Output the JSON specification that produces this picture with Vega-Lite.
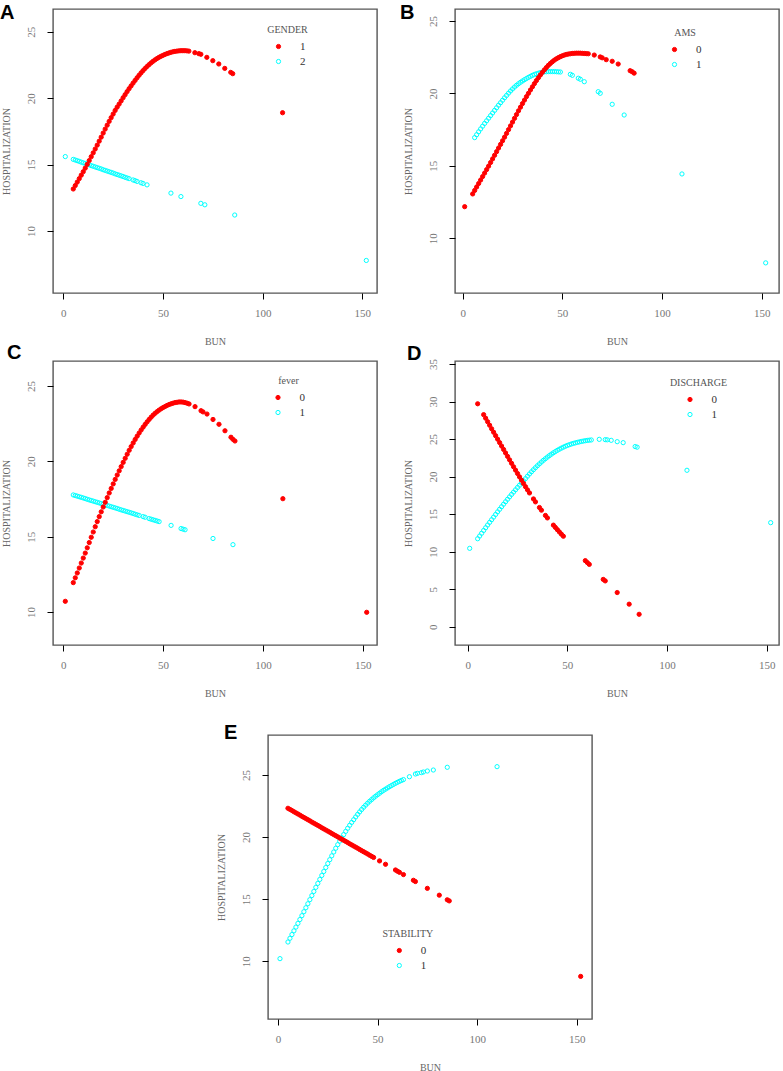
{
"$schema":"https://vega.github.io/schema/vega-lite/v6.json",
"autosize":{"type":"none"},
"padding":{"left":53,"top":9,"right":730,"bottom":1062},
"background":"white",
"config":{
 "view":{"stroke":"#555","strokeWidth":1.4},
 "axis":{"grid":false,"domain":false,"ticks":true,"tickColor":"#000","tickSize":6,"tickWidth":1,"labelFont":"Liberation Serif","labelFontSize":11,"labelColor":"#777","titleFont":"Liberation Serif","titleFontSize":10,"titleFontWeight":"normal","titleColor":"#666","labelPadding":8,"labelFlush":false,"labelOverlap":false},
 "axisX":{"titlePadding":18,"labelAngle":0},
 "axisY":{"labelAngle":-90,"labelAlign":"center","labelBaseline":"bottom","labelPadding":11,"titlePadding":14},
 "legend":{"padding":0,"titleFont":"Liberation Serif","titleFontSize":10,"titleFontWeight":"normal","titleColor":"#555","titleAnchor":"middle","titlePadding":6,"labelFont":"Liberation Serif","labelFontSize":11,"labelColor":"#333","labelOffset":16,"rowPadding":3,"symbolSize":18,"symbolStrokeWidth":1,"symbolType":"circle"},
 "title":{"font":"Liberation Sans","fontSize":20,"fontWeight":"bold","color":"#000","anchor":"start","frame":"group","offset":0,"baseline":"alphabetic"}
},
"datasets":{
"A":[
{"grp":"2","bun":1,"hosp":15.6},{"grp":"2","bun":5,"hosp":15.39},{"grp":"2","bun":6,"hosp":15.34},{"grp":"2","bun":7,"hosp":15.29},{"grp":"2","bun":8,"hosp":15.24},{"grp":"2","bun":9,"hosp":15.18},{"grp":"2","bun":10,"hosp":15.13},{"grp":"2","bun":11,"hosp":15.08},{"grp":"2","bun":12,"hosp":15.03},{"grp":"2","bun":13,"hosp":14.98},{"grp":"2","bun":14,"hosp":14.92},{"grp":"2","bun":15,"hosp":14.87},{"grp":"2","bun":16,"hosp":14.82},{"grp":"2","bun":17,"hosp":14.77},{"grp":"2","bun":18,"hosp":14.72},{"grp":"2","bun":19,"hosp":14.67},{"grp":"2","bun":20,"hosp":14.61},{"grp":"2","bun":21,"hosp":14.56},{"grp":"2","bun":22,"hosp":14.51},{"grp":"2","bun":23,"hosp":14.46},{"grp":"2","bun":24,"hosp":14.41},{"grp":"2","bun":25,"hosp":14.36},{"grp":"2","bun":26,"hosp":14.3},{"grp":"2","bun":27,"hosp":14.25},{"grp":"2","bun":28,"hosp":14.2},{"grp":"2","bun":29,"hosp":14.15},{"grp":"2","bun":30,"hosp":14.1},{"grp":"2","bun":31,"hosp":14.04},{"grp":"2","bun":32,"hosp":13.99},{"grp":"2","bun":33,"hosp":13.94},{"grp":"2","bun":35,"hosp":13.84},{"grp":"2","bun":36,"hosp":13.79},{"grp":"2","bun":37,"hosp":13.73},{"grp":"2","bun":39,"hosp":13.63},{"grp":"2","bun":40,"hosp":13.58},{"grp":"2","bun":42,"hosp":13.47},{"grp":"2","bun":54,"hosp":12.85},{"grp":"2","bun":59,"hosp":12.59},{"grp":"2","bun":69,"hosp":12.08},{"grp":"2","bun":71,"hosp":11.97},{"grp":"2","bun":86,"hosp":11.2},{"grp":"2","bun":152,"hosp":7.78},
{"grp":"1","bun":5,"hosp":13.16},{"grp":"1","bun":6,"hosp":13.42},{"grp":"1","bun":7,"hosp":13.68},{"grp":"1","bun":8,"hosp":13.94},{"grp":"1","bun":9,"hosp":14.2},{"grp":"1","bun":10,"hosp":14.46},{"grp":"1","bun":11,"hosp":14.73},{"grp":"1","bun":12,"hosp":15.01},{"grp":"1","bun":13,"hosp":15.3},{"grp":"1","bun":14,"hosp":15.59},{"grp":"1","bun":15,"hosp":15.88},{"grp":"1","bun":16,"hosp":16.17},{"grp":"1","bun":17,"hosp":16.46},{"grp":"1","bun":18,"hosp":16.76},{"grp":"1","bun":19,"hosp":17.06},{"grp":"1","bun":20,"hosp":17.37},{"grp":"1","bun":21,"hosp":17.67},{"grp":"1","bun":22,"hosp":17.96},{"grp":"1","bun":23,"hosp":18.25},{"grp":"1","bun":24,"hosp":18.53},{"grp":"1","bun":25,"hosp":18.8},{"grp":"1","bun":26,"hosp":19.07},{"grp":"1","bun":27,"hosp":19.32},{"grp":"1","bun":28,"hosp":19.55},{"grp":"1","bun":29,"hosp":19.79},{"grp":"1","bun":30,"hosp":20.03},{"grp":"1","bun":31,"hosp":20.26},{"grp":"1","bun":32,"hosp":20.49},{"grp":"1","bun":33,"hosp":20.71},{"grp":"1","bun":34,"hosp":20.92},{"grp":"1","bun":35,"hosp":21.13},{"grp":"1","bun":36,"hosp":21.33},{"grp":"1","bun":37,"hosp":21.53},{"grp":"1","bun":38,"hosp":21.72},{"grp":"1","bun":39,"hosp":21.9},{"grp":"1","bun":40,"hosp":22.07},{"grp":"1","bun":41,"hosp":22.23},{"grp":"1","bun":42,"hosp":22.38},{"grp":"1","bun":43,"hosp":22.52},{"grp":"1","bun":44,"hosp":22.65},{"grp":"1","bun":45,"hosp":22.77},{"grp":"1","bun":46,"hosp":22.88},{"grp":"1","bun":47,"hosp":22.98},{"grp":"1","bun":48,"hosp":23.07},{"grp":"1","bun":49,"hosp":23.15},{"grp":"1","bun":50,"hosp":23.22},{"grp":"1","bun":51,"hosp":23.29},{"grp":"1","bun":52,"hosp":23.35},{"grp":"1","bun":53,"hosp":23.4},{"grp":"1","bun":54,"hosp":23.45},{"grp":"1","bun":55,"hosp":23.49},{"grp":"1","bun":56,"hosp":23.52},{"grp":"1","bun":57,"hosp":23.54},{"grp":"1","bun":58,"hosp":23.56},{"grp":"1","bun":59,"hosp":23.57},{"grp":"1","bun":60,"hosp":23.57},{"grp":"1","bun":61,"hosp":23.57},{"grp":"1","bun":62,"hosp":23.56},{"grp":"1","bun":63,"hosp":23.54},{"grp":"1","bun":66,"hosp":23.42},{"grp":"1","bun":68,"hosp":23.35},{"grp":"1","bun":69,"hosp":23.3},{"grp":"1","bun":72,"hosp":23.07},{"grp":"1","bun":75,"hosp":22.82},{"grp":"1","bun":78,"hosp":22.57},{"grp":"1","bun":81,"hosp":22.24},{"grp":"1","bun":84,"hosp":21.94},{"grp":"1","bun":85,"hosp":21.84},{"grp":"1","bun":110,"hosp":18.9}
],
"B":[
{"grp":"1","bun":6,"hosp":16.95},{"grp":"1","bun":7,"hosp":17.15},{"grp":"1","bun":8,"hosp":17.35},{"grp":"1","bun":9,"hosp":17.55},{"grp":"1","bun":10,"hosp":17.74},{"grp":"1","bun":11,"hosp":17.93},{"grp":"1","bun":12,"hosp":18.11},{"grp":"1","bun":13,"hosp":18.29},{"grp":"1","bun":14,"hosp":18.47},{"grp":"1","bun":15,"hosp":18.65},{"grp":"1","bun":16,"hosp":18.83},{"grp":"1","bun":17,"hosp":19.01},{"grp":"1","bun":18,"hosp":19.19},{"grp":"1","bun":19,"hosp":19.36},{"grp":"1","bun":20,"hosp":19.53},{"grp":"1","bun":21,"hosp":19.7},{"grp":"1","bun":22,"hosp":19.86},{"grp":"1","bun":23,"hosp":20.02},{"grp":"1","bun":24,"hosp":20.17},{"grp":"1","bun":25,"hosp":20.31},{"grp":"1","bun":26,"hosp":20.44},{"grp":"1","bun":27,"hosp":20.56},{"grp":"1","bun":28,"hosp":20.67},{"grp":"1","bun":29,"hosp":20.77},{"grp":"1","bun":30,"hosp":20.86},{"grp":"1","bun":31,"hosp":20.95},{"grp":"1","bun":32,"hosp":21.03},{"grp":"1","bun":33,"hosp":21.11},{"grp":"1","bun":34,"hosp":21.18},{"grp":"1","bun":35,"hosp":21.25},{"grp":"1","bun":36,"hosp":21.31},{"grp":"1","bun":37,"hosp":21.36},{"grp":"1","bun":38,"hosp":21.4},{"grp":"1","bun":39,"hosp":21.44},{"grp":"1","bun":40,"hosp":21.47},{"grp":"1","bun":41,"hosp":21.49},{"grp":"1","bun":42,"hosp":21.5},{"grp":"1","bun":43,"hosp":21.51},{"grp":"1","bun":44,"hosp":21.51},{"grp":"1","bun":45,"hosp":21.51},{"grp":"1","bun":46,"hosp":21.51},{"grp":"1","bun":47,"hosp":21.5},{"grp":"1","bun":48,"hosp":21.49},{"grp":"1","bun":49,"hosp":21.48},{"grp":"1","bun":54,"hosp":21.32},{"grp":"1","bun":55,"hosp":21.25},{"grp":"1","bun":58,"hosp":21.05},{"grp":"1","bun":59,"hosp":20.98},{"grp":"1","bun":61,"hosp":20.81},{"grp":"1","bun":68,"hosp":20.12},{"grp":"1","bun":69,"hosp":20.01},{"grp":"1","bun":75,"hosp":19.25},{"grp":"1","bun":81,"hosp":18.51},{"grp":"1","bun":110,"hosp":14.44},{"grp":"1","bun":152,"hosp":8.3},
{"grp":"0","bun":1,"hosp":12.18},{"grp":"0","bun":5,"hosp":13.06},{"grp":"0","bun":6,"hosp":13.3},{"grp":"0","bun":7,"hosp":13.54},{"grp":"0","bun":8,"hosp":13.78},{"grp":"0","bun":9,"hosp":14.02},{"grp":"0","bun":10,"hosp":14.26},{"grp":"0","bun":11,"hosp":14.5},{"grp":"0","bun":12,"hosp":14.74},{"grp":"0","bun":13,"hosp":14.98},{"grp":"0","bun":14,"hosp":15.23},{"grp":"0","bun":15,"hosp":15.48},{"grp":"0","bun":16,"hosp":15.73},{"grp":"0","bun":17,"hosp":15.98},{"grp":"0","bun":18,"hosp":16.23},{"grp":"0","bun":19,"hosp":16.48},{"grp":"0","bun":20,"hosp":16.73},{"grp":"0","bun":21,"hosp":16.98},{"grp":"0","bun":22,"hosp":17.24},{"grp":"0","bun":23,"hosp":17.5},{"grp":"0","bun":24,"hosp":17.76},{"grp":"0","bun":25,"hosp":18.02},{"grp":"0","bun":26,"hosp":18.28},{"grp":"0","bun":27,"hosp":18.54},{"grp":"0","bun":28,"hosp":18.8},{"grp":"0","bun":29,"hosp":19.05},{"grp":"0","bun":30,"hosp":19.3},{"grp":"0","bun":31,"hosp":19.54},{"grp":"0","bun":32,"hosp":19.78},{"grp":"0","bun":33,"hosp":20.01},{"grp":"0","bun":34,"hosp":20.24},{"grp":"0","bun":35,"hosp":20.46},{"grp":"0","bun":36,"hosp":20.68},{"grp":"0","bun":37,"hosp":20.89},{"grp":"0","bun":38,"hosp":21.09},{"grp":"0","bun":39,"hosp":21.28},{"grp":"0","bun":40,"hosp":21.46},{"grp":"0","bun":41,"hosp":21.63},{"grp":"0","bun":42,"hosp":21.79},{"grp":"0","bun":43,"hosp":21.94},{"grp":"0","bun":44,"hosp":22.07},{"grp":"0","bun":45,"hosp":22.19},{"grp":"0","bun":46,"hosp":22.3},{"grp":"0","bun":47,"hosp":22.39},{"grp":"0","bun":48,"hosp":22.47},{"grp":"0","bun":49,"hosp":22.54},{"grp":"0","bun":50,"hosp":22.6},{"grp":"0","bun":51,"hosp":22.65},{"grp":"0","bun":52,"hosp":22.69},{"grp":"0","bun":53,"hosp":22.72},{"grp":"0","bun":54,"hosp":22.74},{"grp":"0","bun":55,"hosp":22.76},{"grp":"0","bun":56,"hosp":22.77},{"grp":"0","bun":57,"hosp":22.78},{"grp":"0","bun":58,"hosp":22.78},{"grp":"0","bun":59,"hosp":22.78},{"grp":"0","bun":60,"hosp":22.77},{"grp":"0","bun":61,"hosp":22.76},{"grp":"0","bun":62,"hosp":22.75},{"grp":"0","bun":63,"hosp":22.74},{"grp":"0","bun":66,"hosp":22.65},{"grp":"0","bun":69,"hosp":22.52},{"grp":"0","bun":70,"hosp":22.46},{"grp":"0","bun":72,"hosp":22.33},{"grp":"0","bun":75,"hosp":22.22},{"grp":"0","bun":78,"hosp":22.03},{"grp":"0","bun":84,"hosp":21.57},{"grp":"0","bun":85,"hosp":21.5},{"grp":"0","bun":86,"hosp":21.4}
],
"C":[
{"grp":"1","bun":5,"hosp":17.77},{"grp":"1","bun":6,"hosp":17.73},{"grp":"1","bun":7,"hosp":17.69},{"grp":"1","bun":8,"hosp":17.65},{"grp":"1","bun":9,"hosp":17.61},{"grp":"1","bun":10,"hosp":17.57},{"grp":"1","bun":11,"hosp":17.53},{"grp":"1","bun":12,"hosp":17.48},{"grp":"1","bun":13,"hosp":17.44},{"grp":"1","bun":14,"hosp":17.4},{"grp":"1","bun":15,"hosp":17.36},{"grp":"1","bun":16,"hosp":17.32},{"grp":"1","bun":17,"hosp":17.28},{"grp":"1","bun":18,"hosp":17.24},{"grp":"1","bun":19,"hosp":17.2},{"grp":"1","bun":20,"hosp":17.15},{"grp":"1","bun":21,"hosp":17.11},{"grp":"1","bun":22,"hosp":17.07},{"grp":"1","bun":23,"hosp":17.03},{"grp":"1","bun":24,"hosp":16.99},{"grp":"1","bun":25,"hosp":16.95},{"grp":"1","bun":26,"hosp":16.91},{"grp":"1","bun":27,"hosp":16.87},{"grp":"1","bun":28,"hosp":16.82},{"grp":"1","bun":29,"hosp":16.78},{"grp":"1","bun":30,"hosp":16.74},{"grp":"1","bun":31,"hosp":16.7},{"grp":"1","bun":32,"hosp":16.66},{"grp":"1","bun":33,"hosp":16.62},{"grp":"1","bun":34,"hosp":16.58},{"grp":"1","bun":35,"hosp":16.54},{"grp":"1","bun":36,"hosp":16.49},{"grp":"1","bun":37,"hosp":16.45},{"grp":"1","bun":38,"hosp":16.41},{"grp":"1","bun":40,"hosp":16.33},{"grp":"1","bun":41,"hosp":16.29},{"grp":"1","bun":43,"hosp":16.2},{"grp":"1","bun":44,"hosp":16.16},{"grp":"1","bun":45,"hosp":16.12},{"grp":"1","bun":46,"hosp":16.08},{"grp":"1","bun":47,"hosp":16.04},{"grp":"1","bun":48,"hosp":16.0},{"grp":"1","bun":54,"hosp":15.75},{"grp":"1","bun":59,"hosp":15.54},{"grp":"1","bun":60,"hosp":15.5},{"grp":"1","bun":61,"hosp":15.46},{"grp":"1","bun":75,"hosp":14.88},{"grp":"1","bun":85,"hosp":14.47},
{"grp":"0","bun":1,"hosp":10.71},{"grp":"0","bun":5,"hosp":11.95},{"grp":"0","bun":6,"hosp":12.27},{"grp":"0","bun":7,"hosp":12.59},{"grp":"0","bun":8,"hosp":12.92},{"grp":"0","bun":9,"hosp":13.25},{"grp":"0","bun":10,"hosp":13.58},{"grp":"0","bun":11,"hosp":13.91},{"grp":"0","bun":12,"hosp":14.26},{"grp":"0","bun":13,"hosp":14.61},{"grp":"0","bun":14,"hosp":14.96},{"grp":"0","bun":15,"hosp":15.31},{"grp":"0","bun":16,"hosp":15.66},{"grp":"0","bun":17,"hosp":16.0},{"grp":"0","bun":18,"hosp":16.33},{"grp":"0","bun":19,"hosp":16.65},{"grp":"0","bun":20,"hosp":16.97},{"grp":"0","bun":21,"hosp":17.28},{"grp":"0","bun":22,"hosp":17.59},{"grp":"0","bun":23,"hosp":17.9},{"grp":"0","bun":24,"hosp":18.2},{"grp":"0","bun":25,"hosp":18.5},{"grp":"0","bun":26,"hosp":18.8},{"grp":"0","bun":27,"hosp":19.09},{"grp":"0","bun":28,"hosp":19.37},{"grp":"0","bun":29,"hosp":19.65},{"grp":"0","bun":30,"hosp":19.93},{"grp":"0","bun":31,"hosp":20.2},{"grp":"0","bun":32,"hosp":20.47},{"grp":"0","bun":33,"hosp":20.73},{"grp":"0","bun":34,"hosp":20.98},{"grp":"0","bun":35,"hosp":21.22},{"grp":"0","bun":36,"hosp":21.45},{"grp":"0","bun":37,"hosp":21.67},{"grp":"0","bun":38,"hosp":21.88},{"grp":"0","bun":39,"hosp":22.08},{"grp":"0","bun":40,"hosp":22.27},{"grp":"0","bun":41,"hosp":22.45},{"grp":"0","bun":42,"hosp":22.62},{"grp":"0","bun":43,"hosp":22.78},{"grp":"0","bun":44,"hosp":22.93},{"grp":"0","bun":45,"hosp":23.07},{"grp":"0","bun":46,"hosp":23.19},{"grp":"0","bun":47,"hosp":23.3},{"grp":"0","bun":48,"hosp":23.4},{"grp":"0","bun":49,"hosp":23.49},{"grp":"0","bun":50,"hosp":23.57},{"grp":"0","bun":51,"hosp":23.64},{"grp":"0","bun":52,"hosp":23.71},{"grp":"0","bun":53,"hosp":23.77},{"grp":"0","bun":54,"hosp":23.82},{"grp":"0","bun":55,"hosp":23.86},{"grp":"0","bun":56,"hosp":23.9},{"grp":"0","bun":57,"hosp":23.92},{"grp":"0","bun":58,"hosp":23.94},{"grp":"0","bun":59,"hosp":23.94},{"grp":"0","bun":60,"hosp":23.93},{"grp":"0","bun":61,"hosp":23.9},{"grp":"0","bun":62,"hosp":23.86},{"grp":"0","bun":63,"hosp":23.81},{"grp":"0","bun":66,"hosp":23.63},{"grp":"0","bun":69,"hosp":23.36},{"grp":"0","bun":70,"hosp":23.28},{"grp":"0","bun":72,"hosp":23.14},{"grp":"0","bun":75,"hosp":22.78},{"grp":"0","bun":78,"hosp":22.46},{"grp":"0","bun":81,"hosp":22.03},{"grp":"0","bun":84,"hosp":21.6},{"grp":"0","bun":85,"hosp":21.46},{"grp":"0","bun":86,"hosp":21.35},{"grp":"0","bun":110,"hosp":17.52},{"grp":"0","bun":152,"hosp":9.98}
],
"D":[
{"grp":"1","bun":1,"hosp":10.44},{"grp":"1","bun":5,"hosp":11.72},{"grp":"1","bun":6,"hosp":12.08},{"grp":"1","bun":7,"hosp":12.45},{"grp":"1","bun":8,"hosp":12.82},{"grp":"1","bun":9,"hosp":13.18},{"grp":"1","bun":10,"hosp":13.55},{"grp":"1","bun":11,"hosp":13.9},{"grp":"1","bun":12,"hosp":14.25},{"grp":"1","bun":13,"hosp":14.6},{"grp":"1","bun":14,"hosp":14.95},{"grp":"1","bun":15,"hosp":15.3},{"grp":"1","bun":16,"hosp":15.64},{"grp":"1","bun":17,"hosp":15.98},{"grp":"1","bun":18,"hosp":16.32},{"grp":"1","bun":19,"hosp":16.65},{"grp":"1","bun":20,"hosp":16.98},{"grp":"1","bun":21,"hosp":17.3},{"grp":"1","bun":22,"hosp":17.62},{"grp":"1","bun":23,"hosp":17.93},{"grp":"1","bun":24,"hosp":18.24},{"grp":"1","bun":25,"hosp":18.55},{"grp":"1","bun":26,"hosp":18.85},{"grp":"1","bun":27,"hosp":19.15},{"grp":"1","bun":28,"hosp":19.44},{"grp":"1","bun":29,"hosp":19.73},{"grp":"1","bun":30,"hosp":20.05},{"grp":"1","bun":31,"hosp":20.35},{"grp":"1","bun":32,"hosp":20.64},{"grp":"1","bun":33,"hosp":20.92},{"grp":"1","bun":34,"hosp":21.19},{"grp":"1","bun":35,"hosp":21.45},{"grp":"1","bun":36,"hosp":21.7},{"grp":"1","bun":37,"hosp":21.94},{"grp":"1","bun":38,"hosp":22.17},{"grp":"1","bun":39,"hosp":22.39},{"grp":"1","bun":40,"hosp":22.6},{"grp":"1","bun":41,"hosp":22.8},{"grp":"1","bun":42,"hosp":22.99},{"grp":"1","bun":43,"hosp":23.17},{"grp":"1","bun":44,"hosp":23.34},{"grp":"1","bun":45,"hosp":23.5},{"grp":"1","bun":46,"hosp":23.65},{"grp":"1","bun":47,"hosp":23.79},{"grp":"1","bun":48,"hosp":23.92},{"grp":"1","bun":49,"hosp":24.04},{"grp":"1","bun":50,"hosp":24.15},{"grp":"1","bun":51,"hosp":24.25},{"grp":"1","bun":52,"hosp":24.34},{"grp":"1","bun":53,"hosp":24.42},{"grp":"1","bun":54,"hosp":24.49},{"grp":"1","bun":55,"hosp":24.56},{"grp":"1","bun":56,"hosp":24.62},{"grp":"1","bun":57,"hosp":24.68},{"grp":"1","bun":58,"hosp":24.73},{"grp":"1","bun":59,"hosp":24.78},{"grp":"1","bun":60,"hosp":24.82},{"grp":"1","bun":61,"hosp":24.85},{"grp":"1","bun":62,"hosp":24.88},{"grp":"1","bun":66,"hosp":24.96},{"grp":"1","bun":69,"hosp":24.92},{"grp":"1","bun":70,"hosp":24.9},{"grp":"1","bun":72,"hosp":24.83},{"grp":"1","bun":75,"hosp":24.65},{"grp":"1","bun":78,"hosp":24.52},{"grp":"1","bun":84,"hosp":24.0},{"grp":"1","bun":85,"hosp":23.92},{"grp":"1","bun":110,"hosp":20.84},{"grp":"1","bun":152,"hosp":13.86},
{"grp":"0","bun":5,"hosp":29.7},{"grp":"0","bun":8,"hosp":28.25},{"grp":"0","bun":9,"hosp":27.78},{"grp":"0","bun":10,"hosp":27.31},{"grp":"0","bun":11,"hosp":26.84},{"grp":"0","bun":12,"hosp":26.37},{"grp":"0","bun":13,"hosp":25.91},{"grp":"0","bun":14,"hosp":25.45},{"grp":"0","bun":15,"hosp":24.99},{"grp":"0","bun":16,"hosp":24.53},{"grp":"0","bun":17,"hosp":24.07},{"grp":"0","bun":18,"hosp":23.61},{"grp":"0","bun":19,"hosp":23.15},{"grp":"0","bun":20,"hosp":22.69},{"grp":"0","bun":21,"hosp":22.23},{"grp":"0","bun":22,"hosp":21.77},{"grp":"0","bun":23,"hosp":21.31},{"grp":"0","bun":24,"hosp":20.86},{"grp":"0","bun":25,"hosp":20.41},{"grp":"0","bun":26,"hosp":19.96},{"grp":"0","bun":27,"hosp":19.52},{"grp":"0","bun":28,"hosp":19.08},{"grp":"0","bun":29,"hosp":18.65},{"grp":"0","bun":30,"hosp":18.23},{"grp":"0","bun":31,"hosp":17.82},{"grp":"0","bun":33,"hosp":17.02},{"grp":"0","bun":34,"hosp":16.63},{"grp":"0","bun":36,"hosp":15.88},{"grp":"0","bun":37,"hosp":15.52},{"grp":"0","bun":39,"hosp":14.82},{"grp":"0","bun":40,"hosp":14.49},{"grp":"0","bun":43,"hosp":13.53},{"grp":"0","bun":44,"hosp":13.22},{"grp":"0","bun":45,"hosp":12.92},{"grp":"0","bun":46,"hosp":12.62},{"grp":"0","bun":47,"hosp":12.33},{"grp":"0","bun":48,"hosp":12.05},{"grp":"0","bun":59,"hosp":8.8},{"grp":"0","bun":60,"hosp":8.55},{"grp":"0","bun":61,"hosp":8.3},{"grp":"0","bun":68,"hosp":6.3},{"grp":"0","bun":69,"hosp":6.1},{"grp":"0","bun":75,"hosp":4.55},{"grp":"0","bun":81,"hosp":3.0},{"grp":"0","bun":86,"hosp":1.65}
],
"E":[
{"grp":"1","bun":1,"hosp":10.21},{"grp":"1","bun":5,"hosp":11.55},{"grp":"1","bun":6,"hosp":11.85},{"grp":"1","bun":7,"hosp":12.15},{"grp":"1","bun":8,"hosp":12.45},{"grp":"1","bun":9,"hosp":12.75},{"grp":"1","bun":10,"hosp":13.05},{"grp":"1","bun":11,"hosp":13.36},{"grp":"1","bun":12,"hosp":13.67},{"grp":"1","bun":13,"hosp":13.99},{"grp":"1","bun":14,"hosp":14.31},{"grp":"1","bun":15,"hosp":14.63},{"grp":"1","bun":16,"hosp":14.96},{"grp":"1","bun":17,"hosp":15.29},{"grp":"1","bun":18,"hosp":15.62},{"grp":"1","bun":19,"hosp":15.95},{"grp":"1","bun":20,"hosp":16.27},{"grp":"1","bun":21,"hosp":16.59},{"grp":"1","bun":22,"hosp":16.91},{"grp":"1","bun":23,"hosp":17.23},{"grp":"1","bun":24,"hosp":17.55},{"grp":"1","bun":25,"hosp":17.87},{"grp":"1","bun":26,"hosp":18.18},{"grp":"1","bun":27,"hosp":18.49},{"grp":"1","bun":28,"hosp":18.8},{"grp":"1","bun":29,"hosp":19.1},{"grp":"1","bun":30,"hosp":19.39},{"grp":"1","bun":31,"hosp":19.67},{"grp":"1","bun":32,"hosp":19.94},{"grp":"1","bun":33,"hosp":20.2},{"grp":"1","bun":34,"hosp":20.46},{"grp":"1","bun":35,"hosp":20.71},{"grp":"1","bun":36,"hosp":20.95},{"grp":"1","bun":37,"hosp":21.18},{"grp":"1","bun":38,"hosp":21.4},{"grp":"1","bun":39,"hosp":21.62},{"grp":"1","bun":40,"hosp":21.83},{"grp":"1","bun":41,"hosp":22.03},{"grp":"1","bun":42,"hosp":22.22},{"grp":"1","bun":43,"hosp":22.4},{"grp":"1","bun":44,"hosp":22.57},{"grp":"1","bun":45,"hosp":22.73},{"grp":"1","bun":46,"hosp":22.88},{"grp":"1","bun":47,"hosp":23.02},{"grp":"1","bun":48,"hosp":23.16},{"grp":"1","bun":49,"hosp":23.29},{"grp":"1","bun":50,"hosp":23.41},{"grp":"1","bun":51,"hosp":23.53},{"grp":"1","bun":52,"hosp":23.65},{"grp":"1","bun":53,"hosp":23.76},{"grp":"1","bun":54,"hosp":23.86},{"grp":"1","bun":55,"hosp":23.96},{"grp":"1","bun":56,"hosp":24.06},{"grp":"1","bun":57,"hosp":24.15},{"grp":"1","bun":58,"hosp":24.24},{"grp":"1","bun":59,"hosp":24.33},{"grp":"1","bun":60,"hosp":24.41},{"grp":"1","bun":61,"hosp":24.49},{"grp":"1","bun":62,"hosp":24.56},{"grp":"1","bun":63,"hosp":24.63},{"grp":"1","bun":66,"hosp":24.86},{"grp":"1","bun":69,"hosp":25.08},{"grp":"1","bun":70,"hosp":25.13},{"grp":"1","bun":72,"hosp":25.19},{"grp":"1","bun":73,"hosp":25.24},{"grp":"1","bun":75,"hosp":25.32},{"grp":"1","bun":78,"hosp":25.4},{"grp":"1","bun":85,"hosp":25.62},{"grp":"1","bun":110,"hosp":25.67},
{"grp":"0","bun":5,"hosp":22.32},{"grp":"0","bun":6,"hosp":22.23},{"grp":"0","bun":7,"hosp":22.14},{"grp":"0","bun":8,"hosp":22.04},{"grp":"0","bun":9,"hosp":21.95},{"grp":"0","bun":10,"hosp":21.86},{"grp":"0","bun":11,"hosp":21.77},{"grp":"0","bun":12,"hosp":21.67},{"grp":"0","bun":13,"hosp":21.58},{"grp":"0","bun":14,"hosp":21.49},{"grp":"0","bun":15,"hosp":21.4},{"grp":"0","bun":16,"hosp":21.31},{"grp":"0","bun":17,"hosp":21.21},{"grp":"0","bun":18,"hosp":21.12},{"grp":"0","bun":19,"hosp":21.03},{"grp":"0","bun":20,"hosp":20.94},{"grp":"0","bun":21,"hosp":20.85},{"grp":"0","bun":22,"hosp":20.75},{"grp":"0","bun":23,"hosp":20.66},{"grp":"0","bun":24,"hosp":20.57},{"grp":"0","bun":25,"hosp":20.48},{"grp":"0","bun":26,"hosp":20.39},{"grp":"0","bun":27,"hosp":20.29},{"grp":"0","bun":28,"hosp":20.2},{"grp":"0","bun":29,"hosp":20.11},{"grp":"0","bun":30,"hosp":20.02},{"grp":"0","bun":31,"hosp":19.92},{"grp":"0","bun":32,"hosp":19.83},{"grp":"0","bun":33,"hosp":19.74},{"grp":"0","bun":34,"hosp":19.65},{"grp":"0","bun":35,"hosp":19.56},{"grp":"0","bun":36,"hosp":19.46},{"grp":"0","bun":37,"hosp":19.37},{"grp":"0","bun":38,"hosp":19.28},{"grp":"0","bun":39,"hosp":19.19},{"grp":"0","bun":40,"hosp":19.1},{"grp":"0","bun":41,"hosp":19.0},{"grp":"0","bun":42,"hosp":18.91},{"grp":"0","bun":43,"hosp":18.82},{"grp":"0","bun":44,"hosp":18.73},{"grp":"0","bun":45,"hosp":18.64},{"grp":"0","bun":46,"hosp":18.54},{"grp":"0","bun":47,"hosp":18.45},{"grp":"0","bun":48,"hosp":18.36},{"grp":"0","bun":51,"hosp":18.08},{"grp":"0","bun":54,"hosp":17.81},{"grp":"0","bun":59,"hosp":17.35},{"grp":"0","bun":60,"hosp":17.25},{"grp":"0","bun":61,"hosp":17.16},{"grp":"0","bun":63,"hosp":16.98},{"grp":"0","bun":68,"hosp":16.52},{"grp":"0","bun":69,"hosp":16.42},{"grp":"0","bun":75,"hosp":15.87},{"grp":"0","bun":81,"hosp":15.32},{"grp":"0","bun":85,"hosp":14.95},{"grp":"0","bun":86,"hosp":14.86},{"grp":"0","bun":152,"hosp":8.78}
]
},
"spacing":23,
"bounds":"full",
"resolve":{"scale":{"x":"independent","y":"independent","fill":"independent","stroke":"independent"},"legend":{"fill":"independent","stroke":"independent"}},
"vconcat":[
 {"columns":2,"spacing":{"row":68,"column":78},"bounds":"flush",
  "resolve":{"scale":{"x":"independent","y":"independent","fill":"independent","stroke":"independent"},"legend":{"fill":"independent","stroke":"independent"}},
  "concat":[
   {"width":324,"height":284,"title":{"text":"A","dx":-53,"dy":18},"data":{"name":"A"},
    "mark":{"type":"point","shape":"circle","size":18,"strokeWidth":1,"opacity":1},
    "encoding":{
     "x":{"field":"bun","type":"quantitative","title":"BUN","scale":{"domain":[-5.17,157.37],"nice":false,"zero":false},"axis":{"values":[0,50,100,150]}},
     "y":{"field":"hosp","type":"quantitative","title":"HOSPITALIZATION","scale":{"domain":[5.33,26.71],"nice":false,"zero":false},"axis":{"values":[10,15,20,25]}},
     "fill":{"field":"grp","type":"nominal","title":"GENDER","scale":{"domain":["1","2"],"range":["#ff0000","transparent"]},"legend":{"orient":"none","legendX":214.5,"legendY":16,"symbolOffset":4.5}},
     "stroke":{"field":"grp","type":"nominal","title":"GENDER","scale":{"domain":["1","2"],"range":["#ff0000","#00ffff"]},"legend":{"orient":"none","legendX":214.5,"legendY":16,"symbolOffset":4.5}}
    }},
   {"width":324,"height":284,"title":{"text":"B","dx":-55,"dy":18},"data":{"name":"B"},
    "mark":{"type":"point","shape":"circle","size":18,"strokeWidth":1,"opacity":1},
    "encoding":{
     "x":{"field":"bun","type":"quantitative","title":"BUN","scale":{"domain":[-3.86,158.68],"nice":false,"zero":false},"axis":{"values":[0,50,100,150]}},
     "y":{"field":"hosp","type":"quantitative","title":"HOSPITALIZATION","scale":{"domain":[6.22,25.83],"nice":false,"zero":false},"axis":{"values":[10,15,20,25]}},
     "fill":{"field":"grp","type":"nominal","title":"AMS","scale":{"domain":["0","1"],"range":["#ff0000","transparent"]},"legend":{"orient":"none","legendX":214,"legendY":19,"symbolOffset":0}},
     "stroke":{"field":"grp","type":"nominal","title":"AMS","scale":{"domain":["0","1"],"range":["#ff0000","#00ffff"]},"legend":{"orient":"none","legendX":214,"legendY":19,"symbolOffset":0}}
    }},
   {"width":324,"height":284,"title":{"text":"C","dx":-46,"dy":6},"data":{"name":"C"},
    "mark":{"type":"point","shape":"circle","size":18,"strokeWidth":1,"opacity":1},
    "encoding":{
     "x":{"field":"bun","type":"quantitative","title":"BUN","scale":{"domain":[-5.16,157.16],"nice":false,"zero":false},"axis":{"values":[0,50,100,150]}},
     "y":{"field":"hosp","type":"quantitative","title":"HOSPITALIZATION","scale":{"domain":[7.81,26.66],"nice":false,"zero":false},"axis":{"values":[10,15,20,25]}},
     "fill":{"field":"grp","type":"nominal","title":"fever","scale":{"domain":["0","1"],"range":["#ff0000","transparent"]},"legend":{"orient":"none","legendX":219.5,"legendY":15,"symbolOffset":0}},
     "stroke":{"field":"grp","type":"nominal","title":"fever","scale":{"domain":["0","1"],"range":["#ff0000","#00ffff"]},"legend":{"orient":"none","legendX":219.5,"legendY":15,"symbolOffset":0}}
    }},
   {"width":324,"height":284,"title":{"text":"D","dx":-48,"dy":9},"data":{"name":"D"},
    "mark":{"type":"point","shape":"circle","size":18,"strokeWidth":1,"opacity":1},
    "encoding":{
     "x":{"field":"bun","type":"quantitative","title":"BUN","scale":{"domain":[-6.37,156.17],"nice":false,"zero":false},"axis":{"values":[0,50,100,150]}},
     "y":{"field":"hosp","type":"quantitative","title":"HOSPITALIZATION","scale":{"domain":[-2.44,35.4],"nice":false,"zero":false},"axis":{"values":[0,5,10,15,20,25,30,35]}},
     "fill":{"field":"grp","type":"nominal","title":"DISCHARGE","scale":{"domain":["0","1"],"range":["#ff0000","transparent"]},"legend":{"orient":"none","legendX":214.5,"legendY":17,"symbolOffset":5}},
     "stroke":{"field":"grp","type":"nominal","title":"DISCHARGE","scale":{"domain":["0","1"],"range":["#ff0000","#00ffff"]},"legend":{"orient":"none","legendX":214.5,"legendY":17,"symbolOffset":5}}
    }}
 ]},
 {"spacing":214,"bounds":"flush",
  "resolve":{"scale":{"x":"independent","y":"independent","fill":"independent","stroke":"independent"},"legend":{"fill":"independent","stroke":"independent"}},
  "hconcat":[
  {"width":1,"height":284,"view":{"stroke":null,"fill":"#ffffff"},"data":{"values":[]},"mark":{"type":"point","opacity":0},"encoding":{}},
  {"width":324,"height":284,"title":{"text":"E","dx":-44,"dy":12},"data":{"name":"E"},
    "mark":{"type":"point","shape":"circle","size":18,"strokeWidth":1,"opacity":1},
    "encoding":{
     "x":{"field":"bun","type":"quantitative","title":"BUN","scale":{"domain":[-5.02,157.68],"nice":false,"zero":false},"axis":{"values":[0,50,100,150]}},
     "y":{"field":"hosp","type":"quantitative","title":"HOSPITALIZATION","scale":{"domain":[5.35,28.22],"nice":false,"zero":false},"axis":{"values":[10,15,20,25]}},
     "fill":{"field":"grp","type":"nominal","title":"STABILITY","scale":{"domain":["0","1"],"range":["#ff0000","transparent"]},"legend":{"orient":"none","legendX":114.8,"legendY":194,"symbolOffset":5}},
     "stroke":{"field":"grp","type":"nominal","title":"STABILITY","scale":{"domain":["0","1"],"range":["#ff0000","#00ffff"]},"legend":{"orient":"none","legendX":114.8,"legendY":194,"symbolOffset":5}}
    }}
 ]}
]
}
